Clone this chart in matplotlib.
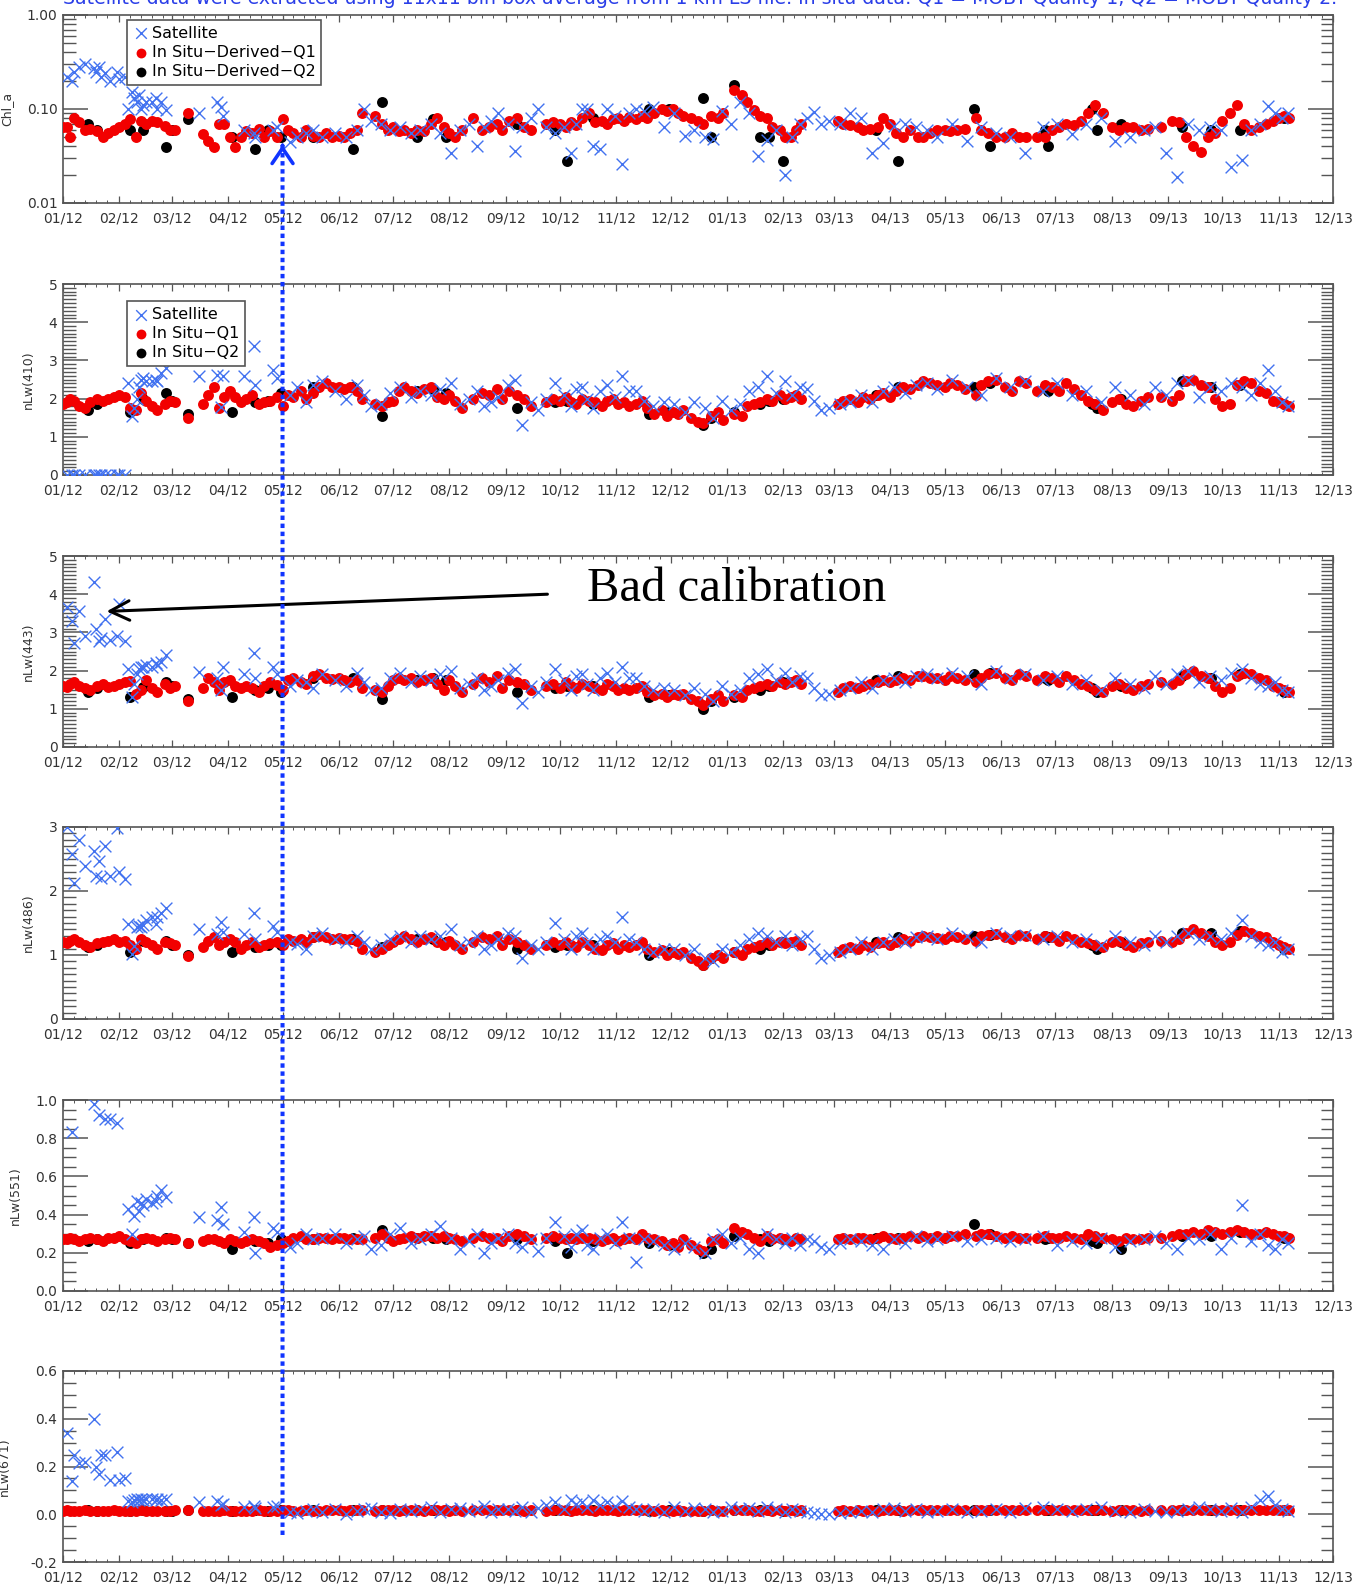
import numpy as np
import matplotlib
matplotlib.use('Agg')
import matplotlib.pyplot as plt
import matplotlib.dates as mdates
from matplotlib.patches import ConnectionPatch
from matplotlib.ticker import (MultipleLocator, FixedLocator, LogLocator,
                               FormatStrFormatter, NullFormatter)

nan = np.nan
START = np.datetime64('2012-01-01')
END = np.datetime64('2013-12-01')

# day offsets from 2012-01-01
q1_days = [0, 2, 4, 6, 9, 12, 15, 19, 22, 25,
           28, 31, 34, 37, 40, 43, 46, 49, 52, 56,
           59, 62, 69, 77, 80, 83, 86, 89, 92, 95,
           98, 101, 104, 108, 111, 114, 118, 121, 124, 127,
           131, 134, 138, 141, 145, 148, 152, 155, 158, 162,
           165, 172, 176, 179, 182, 185, 188, 192, 195, 199,
           203, 206, 210, 213, 216, 220, 226, 231, 235, 239,
           242, 246, 250, 254, 258, 266, 270, 274, 277, 280,
           283, 286, 290, 293, 297, 300, 303, 306, 309, 312,
           316, 319, 322, 326, 330, 333, 336, 339, 342, 346,
           350, 353, 357, 361, 364, 370, 374, 377, 381, 384,
           388, 391, 395, 398, 401, 404, 407, 427, 430, 434,
           438, 441, 445, 449, 452, 456, 459, 463, 467, 471,
           474, 478, 482, 486, 489, 493, 497, 503, 506, 510,
           514, 519, 523, 527, 531, 537, 541, 545, 549, 553,
           557, 561, 565, 569, 573, 578, 582, 586, 590, 594,
           598, 605, 611, 615, 619, 623, 627, 631, 635, 639,
           643, 647, 651, 655, 659, 663, 667, 670, 673, 676]

q2_days = [14, 19, 37, 44, 57, 60, 69, 93, 106, 113,
           120, 138, 160, 176, 195, 204, 211, 250, 271, 278,
           292, 323, 334, 353, 357, 370, 384, 389, 397, 448,
           460, 502, 511, 541, 543, 567, 570, 583, 617, 633,
           649, 673]

sat_days = [2, 5, 6, 9, 12, 17, 18, 20, 21, 23,
            26, 30, 31, 34, 36, 38, 39, 41, 42, 43,
            44, 46, 49, 51, 52, 54, 57, 75, 85, 87,
            88, 100, 105, 106, 116, 118, 125, 129, 134, 138,
            143, 150, 156, 162, 166, 170, 175, 180, 186, 192,
            197, 203, 208, 214, 219, 224, 228, 232, 236, 240,
            245, 249, 253, 258, 262, 266, 271, 276, 280, 283,
            286, 289, 292, 296, 300, 304, 308, 312, 316, 320,
            325, 331, 337, 343, 348, 354, 358, 363, 368, 373,
            378, 383, 388, 393, 398, 402, 406, 410, 414, 418,
            422, 428, 434, 440, 446, 452, 458, 464, 470, 476,
            482, 490, 498, 506, 514, 522, 530, 540, 548, 556,
            564, 572, 580, 588, 596, 602, 608, 614, 620, 626,
            632, 638, 644, 650, 655, 660, 664, 668, 672, 675]

# ---- Chl_a ----
chl_q1 = [0.065, 0.064, 0.05, 0.08, 0.072, 0.06, 0.061, 0.058, 0.05, 0.055,
          0.06, 0.065, 0.07, 0.078, 0.05, 0.075, 0.07, 0.075, 0.072, 0.066,
          0.06, 0.06, 0.09, 0.054, 0.046, 0.039, 0.069, 0.07, 0.05, 0.039,
          0.05, 0.058, 0.055, 0.062, 0.05, 0.058, 0.05, 0.078, 0.06, 0.055,
          0.05, 0.06, 0.052, 0.05, 0.055, 0.05, 0.052, 0.05, 0.055, 0.06,
          0.09, 0.085, 0.07, 0.06, 0.065, 0.058, 0.06, 0.055, 0.06, 0.058,
          0.07, 0.08, 0.065, 0.055, 0.05, 0.06, 0.08, 0.06, 0.065, 0.07,
          0.06, 0.075, 0.08, 0.065, 0.06, 0.07, 0.072, 0.07, 0.065, 0.072,
          0.068, 0.08, 0.09, 0.072, 0.075, 0.07, 0.078, 0.08, 0.075, 0.082,
          0.078, 0.085, 0.08, 0.09, 0.1, 0.095, 0.1, 0.09, 0.085, 0.08,
          0.075, 0.07, 0.085, 0.08, 0.09, 0.16, 0.14, 0.12, 0.098, 0.085,
          0.08, 0.064, 0.06, 0.05, 0.05, 0.06, 0.07, 0.075, 0.07, 0.068,
          0.065, 0.06, 0.062, 0.065, 0.08, 0.07, 0.055, 0.05, 0.06, 0.05,
          0.05, 0.055, 0.06, 0.06, 0.058, 0.06, 0.062, 0.08, 0.06, 0.055,
          0.05, 0.05, 0.055, 0.05, 0.05, 0.05, 0.05, 0.06, 0.065, 0.07,
          0.068, 0.075, 0.09, 0.11, 0.09, 0.065, 0.06, 0.065, 0.065, 0.06,
          0.062, 0.065, 0.075, 0.072, 0.05, 0.04, 0.035, 0.05, 0.055, 0.075,
          0.09, 0.11, 0.07, 0.06, 0.065, 0.07, 0.075, 0.08, 0.085, 0.08]
chl_q2 = [0.07, 0.06, 0.06, 0.06, 0.039, 0.06, 0.078, 0.05, 0.038, 0.06,
          0.05, 0.05, 0.038, 0.12, 0.05, 0.078, 0.05, 0.07, 0.06, 0.028,
          0.08, 0.1, 0.1, 0.13, 0.05, 0.18, 0.05, 0.05, 0.028, 0.06,
          0.028, 0.1, 0.04, 0.06, 0.04, 0.1, 0.06, 0.07, 0.065, 0.06,
          0.06, 0.08]
chl_sat = [0.22, 0.2, 0.25, 0.28, 0.3, 0.27, 0.25, 0.28, 0.22, 0.24,
           0.2, 0.25, 0.21, 0.22, 0.1, 0.15, 0.13, 0.12, 0.14, 0.1,
           0.11, 0.12, 0.12, 0.13, 0.1, 0.12, 0.097, 0.09, 0.118, 0.104,
           0.085, 0.06, 0.055, 0.05, 0.06, 0.065, 0.045, 0.05, 0.055, 0.06,
           0.05, 0.055, 0.05, 0.06, 0.1, 0.075, 0.07, 0.06, 0.065, 0.055,
           0.06, 0.07, 0.055, 0.034, 0.06, 0.07, 0.04, 0.065, 0.075, 0.09,
           0.07, 0.036, 0.065, 0.08, 0.1, 0.065, 0.055, 0.065, 0.034, 0.07,
           0.1, 0.1, 0.04, 0.038, 0.1, 0.085, 0.026, 0.09, 0.1, 0.095,
           0.105, 0.064, 0.09, 0.052, 0.06, 0.05, 0.048, 0.095, 0.07, 0.12,
           0.09, 0.032, 0.047, 0.06, 0.02, 0.05, 0.07, 0.08, 0.093, 0.07,
           0.075, 0.07, 0.09, 0.08, 0.034, 0.044, 0.066, 0.07, 0.065, 0.06,
           0.05, 0.07, 0.046, 0.065, 0.055, 0.05, 0.034, 0.065, 0.07, 0.054,
           0.07, 0.08, 0.046, 0.05, 0.06, 0.065, 0.034, 0.019, 0.07, 0.06,
           0.065, 0.06, 0.024, 0.029, 0.06, 0.07, 0.108, 0.09, 0.08, 0.09]

# ---- nLw(410) ----
n410_q1 = [1.85, 1.9, 2.0, 1.95, 1.8, 1.75, 1.9, 2.0, 1.95, 2.0,
           2.05, 2.1, 2.05, 1.75, 1.7, 2.15, 1.95, 1.8, 1.7, 1.85,
           1.95, 1.9, 1.5, 1.85, 2.1, 2.3, 1.75, 2.05, 2.2, 2.05,
           1.9, 2.0, 2.1, 1.85, 1.9, 1.95, 2.05, 1.8, 2.1, 2.05,
           2.2, 2.0, 2.15, 2.3, 2.4, 2.3, 2.3, 2.25, 2.3, 2.2,
           2.0, 1.85, 1.8, 1.9, 1.95, 2.2, 2.3, 2.2, 2.15, 2.25,
           2.3, 2.05, 2.0, 2.1, 1.95, 1.75, 2.0, 2.15, 2.1, 2.25,
           2.0, 2.2, 2.1, 2.0, 1.8, 1.9, 2.0, 1.95, 2.05, 1.9,
           1.85, 2.0, 1.95, 1.9, 1.8, 1.95, 2.0, 1.85, 1.9, 1.8,
           1.85, 1.95, 1.75, 1.6, 1.7, 1.55, 1.65, 1.6, 1.7, 1.5,
           1.4, 1.35, 1.55, 1.65, 1.45, 1.6, 1.55, 1.8, 1.85, 1.9,
           2.0, 1.95, 2.1, 2.0, 2.05, 2.1, 2.0, 1.85, 1.95, 2.0,
           1.9, 2.05, 2.0, 2.1, 2.15, 2.05, 2.2, 2.3, 2.25, 2.35,
           2.45, 2.4, 2.35, 2.3, 2.4, 2.35, 2.25, 2.1, 2.35, 2.45,
           2.5, 2.3, 2.2, 2.45, 2.4, 2.2, 2.35, 2.3, 2.2, 2.4,
           2.25, 2.1, 1.95, 1.85, 1.7, 1.9, 2.0, 1.85, 1.8, 1.95,
           2.05, 2.05, 1.95, 2.1, 2.45, 2.5, 2.35, 2.3, 2.0, 1.8,
           1.85, 2.35, 2.45, 2.4, 2.2, 2.15, 1.95, 1.9, 1.85, 1.8]
n410_q2 = [1.7, 1.85, 1.65, 2.0, 2.15, 1.95, 1.6, 1.65, 1.9, 1.95,
           2.15, 2.3, 2.3, 1.55, 2.2, 2.25, 2.15, 1.75, 1.9, 1.95,
           1.85, 1.6, 1.65, 1.3, 1.5, 1.65, 1.85, 1.95, 2.0, 2.1,
           2.3, 2.3, 2.4, 2.3, 2.2, 1.85, 1.75, 2.0, 2.45, 2.3,
           2.35, 1.85]
n410_sat = [0.0, 0.0, 0.0, 0.0, 0.0, 0.0, 0.0, 0.0, 0.0, 0.0,
            0.0, 0.0, 0.0, 0.0, 2.4, 1.55, 1.75, 2.0, 2.3, 2.5,
            2.55, 2.45, 2.45, 2.5, 2.45, 2.67, 2.8, 2.58, 2.63, 1.77,
            2.58, 2.58, 3.39, 2.36, 2.76, 2.54, 2.1, 2.3, 1.9, 2.35,
            2.45, 2.2, 2.0, 2.35, 2.1, 1.8, 1.85, 2.15, 2.3, 2.05,
            2.2, 2.1, 2.25, 2.4, 1.85, 2.0, 2.2, 1.8, 1.9, 2.05,
            2.35, 2.5, 1.3, 1.9, 1.7, 2.0, 2.4, 2.1, 1.8, 2.25,
            2.3, 2.0, 1.75, 2.2, 2.35, 2.05, 2.6, 2.2, 2.2, 1.95,
            1.8, 1.9, 1.85, 1.65, 1.9, 1.75, 1.5, 1.95, 1.7, 1.85,
            2.2, 2.3, 2.6, 2.15, 2.45, 2.1, 2.3, 2.25, 1.95, 1.7,
            1.75, 1.85, 1.9, 2.1, 1.9, 2.2, 2.3, 2.15, 2.35, 2.4,
            2.25, 2.5, 2.3, 2.1, 2.55, 2.3, 2.45, 2.2, 2.4, 2.1,
            2.2, 1.9, 2.3, 2.1, 1.85, 2.3, 2.1, 2.4, 2.5, 2.05,
            2.3, 2.2, 2.4, 2.3, 2.1, 2.4, 2.75, 2.2, 1.9, 1.8]

# ---- nLw(443) ----
n443_q1 = [1.6, 1.58, 1.65, 1.7, 1.6, 1.55, 1.5, 1.6, 1.65, 1.58,
           1.6, 1.65, 1.7, 1.72, 1.4, 1.5, 1.75, 1.55, 1.45, 1.65,
           1.55, 1.6, 1.2, 1.55, 1.8, 1.7, 1.5, 1.7, 1.75, 1.6,
           1.55, 1.6, 1.55, 1.45, 1.6, 1.7, 1.62, 1.5, 1.75, 1.8,
           1.7, 1.65, 1.85, 1.9, 1.8, 1.78, 1.8, 1.75, 1.7, 1.75,
           1.55, 1.5, 1.45, 1.6, 1.75, 1.8, 1.75, 1.8, 1.7, 1.75,
           1.8, 1.65, 1.5, 1.75, 1.6, 1.45, 1.65, 1.8, 1.7, 1.85,
           1.55, 1.75, 1.7, 1.65, 1.5, 1.6, 1.65, 1.55, 1.7, 1.6,
           1.55, 1.65, 1.6, 1.55, 1.5, 1.65, 1.6, 1.5, 1.55, 1.5,
           1.55, 1.6, 1.45, 1.35, 1.4, 1.3, 1.4, 1.35, 1.4, 1.25,
           1.2, 1.1, 1.25, 1.35, 1.2, 1.35, 1.3, 1.5, 1.55, 1.6,
           1.65, 1.6, 1.7, 1.65, 1.7, 1.75, 1.65, 1.45, 1.55, 1.6,
           1.55, 1.6, 1.65, 1.7, 1.75, 1.7, 1.75, 1.8, 1.75, 1.85,
           1.85, 1.8, 1.8, 1.75, 1.85, 1.8, 1.75, 1.7, 1.8, 1.9,
           1.95, 1.8, 1.75, 1.9, 1.85, 1.75, 1.85, 1.8, 1.7, 1.85,
           1.75, 1.65, 1.6, 1.5, 1.45, 1.6, 1.65, 1.55, 1.5, 1.6,
           1.65, 1.7, 1.65, 1.75, 1.9, 2.0, 1.85, 1.8, 1.6, 1.45,
           1.55, 1.85, 1.95, 1.9, 1.8, 1.75, 1.6, 1.55, 1.5, 1.45]
n443_q2 = [1.45, 1.55, 1.3, 1.56, 1.7, 1.6, 1.25, 1.3, 1.5, 1.55,
           1.43, 1.8, 1.8, 1.25, 1.75, 1.8, 1.75, 1.45, 1.55, 1.6,
           1.6, 1.3, 1.35, 1.0, 1.2, 1.3, 1.5, 1.6, 1.7, 1.75,
           1.85, 1.9, 1.95, 1.8, 1.75, 1.55, 1.45, 1.6, 1.85, 1.8,
           1.9, 1.45]
n443_sat = [3.66, 3.3, 2.72, 3.57, 2.9, 4.33, 3.1, 2.77, 2.86, 3.35,
            2.8, 2.9, 3.75, 2.77, 2.05, 1.3, 1.65, 1.92, 2.05, 2.1,
            2.1, 2.15, 2.1, 2.2, 2.15, 2.23, 2.41, 1.96, 1.8, 1.5,
            2.1, 1.92, 2.46, 1.8, 2.1, 1.92, 1.6, 1.75, 1.7, 1.55,
            1.9, 1.75, 1.6, 1.95, 1.7, 1.5, 1.55, 1.8, 1.95, 1.7,
            1.85, 1.75, 1.9, 2.0, 1.55, 1.65, 1.8, 1.5, 1.6, 1.75,
            1.95, 2.05, 1.15, 1.6, 1.45, 1.7, 2.05, 1.75, 1.5, 1.85,
            1.9, 1.65, 1.5, 1.8, 1.95, 1.7, 2.1, 1.8, 1.8, 1.6,
            1.5, 1.55, 1.5, 1.35, 1.55, 1.4, 1.2, 1.6, 1.4, 1.5,
            1.8, 1.9, 2.05, 1.75, 1.95, 1.7, 1.85, 1.8, 1.55, 1.35,
            1.4, 1.5, 1.55, 1.7, 1.55, 1.75, 1.8, 1.7, 1.85, 1.9,
            1.8, 1.95, 1.85, 1.65, 2.0, 1.8, 1.9, 1.75, 1.85, 1.65,
            1.75, 1.5, 1.8, 1.65, 1.55, 1.85, 1.65, 1.9, 2.0, 1.7,
            1.85, 1.75, 1.95, 2.05, 1.8, 1.65, 1.6, 1.7, 1.5, 1.45]

# ---- nLw(486) ----
n486_q1 = [1.2, 1.18, 1.22, 1.25, 1.2, 1.15, 1.12, 1.18, 1.2, 1.22,
           1.25, 1.2, 1.22, 1.15, 1.1, 1.25, 1.2, 1.15, 1.1, 1.2,
           1.18, 1.15, 0.98, 1.12, 1.22, 1.28, 1.15, 1.2, 1.25, 1.2,
           1.1, 1.15, 1.2, 1.12, 1.15, 1.18, 1.2, 1.15, 1.25, 1.22,
           1.25, 1.2, 1.28, 1.3, 1.28, 1.25, 1.27, 1.25, 1.25, 1.22,
           1.1, 1.05, 1.1, 1.15, 1.2, 1.25, 1.3, 1.25, 1.2, 1.25,
           1.28, 1.2, 1.15, 1.22, 1.15, 1.1, 1.2, 1.28, 1.25, 1.3,
           1.15, 1.25, 1.2, 1.15, 1.1, 1.15, 1.2, 1.15, 1.2, 1.15,
           1.12, 1.2, 1.15, 1.1, 1.08, 1.15, 1.18, 1.1, 1.15, 1.12,
           1.15, 1.2, 1.1, 1.05, 1.08, 1.0, 1.05, 1.02, 1.05, 0.95,
           0.9, 0.85, 0.95, 1.0, 0.95, 1.05, 1.0, 1.1, 1.12, 1.15,
           1.2, 1.15, 1.2, 1.18, 1.2, 1.22, 1.15, 1.05, 1.1, 1.12,
           1.1, 1.15, 1.12, 1.18, 1.2, 1.15, 1.2, 1.25, 1.22, 1.28,
           1.3, 1.28, 1.27, 1.25, 1.3, 1.28, 1.25, 1.22, 1.3, 1.32,
           1.33, 1.28, 1.25, 1.32, 1.3, 1.25, 1.3, 1.28, 1.22, 1.3,
           1.25, 1.2, 1.18, 1.15, 1.12, 1.2, 1.22, 1.15, 1.12, 1.18,
           1.2, 1.22, 1.2, 1.25, 1.35, 1.4, 1.35, 1.3, 1.2, 1.15,
           1.2, 1.32, 1.38, 1.35, 1.3, 1.28, 1.2, 1.15, 1.12, 1.1]
n486_q2 = [1.12, 1.15, 1.05, 1.22, 1.22, 1.15, 1.0, 1.05, 1.12, 1.15,
           1.15, 1.28, 1.25, 1.12, 1.25, 1.25, 1.2, 1.1, 1.12, 1.15,
           1.15, 1.0, 1.05, 0.85, 0.95, 1.05, 1.1, 1.15, 1.2, 1.2,
           1.28, 1.3, 1.32, 1.3, 1.28, 1.15, 1.1, 1.2, 1.35, 1.35,
           1.38, 1.1]
n486_sat = [3.0, 2.58, 2.13, 2.79, 2.39, 2.63, 2.23, 2.47, 2.2, 2.71,
            2.23, 2.98, 2.29, 2.18, 1.49, 1.01, 1.14, 1.44, 1.46, 1.43,
            1.47, 1.54, 1.6, 1.49, 1.6, 1.65, 1.73, 1.41, 1.33, 1.52,
            1.36, 1.33, 1.65, 1.25, 1.46, 1.36, 1.2, 1.17, 1.09, 1.3,
            1.35, 1.25, 1.2, 1.3, 1.2, 1.1, 1.15, 1.25, 1.3, 1.2,
            1.3, 1.25, 1.3, 1.4, 1.15, 1.2, 1.3, 1.1, 1.15, 1.25,
            1.35, 1.3, 0.95, 1.15, 1.1, 1.2, 1.5, 1.25, 1.1, 1.3,
            1.35, 1.2, 1.1, 1.25, 1.3, 1.2, 1.6, 1.25, 1.2, 1.1,
            1.05, 1.1, 1.1, 1.0, 1.1, 0.95, 0.9, 1.1, 1.05, 1.15,
            1.25, 1.35, 1.3, 1.2, 1.3, 1.15, 1.25, 1.3, 1.1, 0.95,
            1.0, 1.05, 1.1, 1.2, 1.1, 1.2, 1.25, 1.2, 1.28, 1.3,
            1.25, 1.35, 1.3, 1.2, 1.35, 1.3, 1.32, 1.25, 1.3, 1.2,
            1.25, 1.15, 1.3, 1.2, 1.15, 1.3, 1.2, 1.3, 1.35, 1.25,
            1.3, 1.25, 1.35, 1.55, 1.3, 1.2, 1.15, 1.2, 1.05, 1.1]

# ---- nLw(551) ----
n551_q1 = [0.27, 0.27, 0.28, 0.27, 0.26, 0.27, 0.28, 0.27, 0.26, 0.28,
           0.28, 0.29, 0.27, 0.26, 0.25, 0.27, 0.28, 0.27, 0.26, 0.27,
           0.28, 0.27, 0.25, 0.26, 0.27, 0.27, 0.26, 0.25, 0.27, 0.26,
           0.25, 0.26, 0.27, 0.26, 0.25, 0.23, 0.24, 0.25, 0.26, 0.28,
           0.29, 0.27, 0.27, 0.28, 0.28, 0.27, 0.28, 0.28, 0.27, 0.27,
           0.27, 0.28, 0.3, 0.28, 0.26, 0.27, 0.28, 0.29, 0.28, 0.29,
           0.29, 0.28, 0.29, 0.28, 0.27, 0.26, 0.28, 0.29, 0.28, 0.28,
           0.26, 0.29, 0.3, 0.29, 0.27, 0.28, 0.29, 0.28, 0.27, 0.28,
           0.27, 0.28, 0.28, 0.27, 0.26, 0.27, 0.28, 0.26, 0.27, 0.28,
           0.27, 0.3, 0.28, 0.27, 0.26, 0.24, 0.25, 0.23, 0.27, 0.24,
           0.22, 0.21, 0.26, 0.27, 0.25, 0.33, 0.31, 0.3, 0.28, 0.26,
           0.29, 0.27, 0.28, 0.27, 0.26, 0.28, 0.27, 0.27, 0.28, 0.27,
           0.28, 0.28, 0.27, 0.28, 0.29, 0.28, 0.27, 0.28, 0.29, 0.28,
           0.29, 0.28, 0.29, 0.28, 0.29, 0.29, 0.3, 0.29, 0.3, 0.3,
           0.29, 0.28, 0.29, 0.28, 0.28, 0.28, 0.29, 0.28, 0.28, 0.29,
           0.28, 0.27, 0.3, 0.29, 0.28, 0.27, 0.26, 0.28, 0.27, 0.27,
           0.28, 0.28, 0.29, 0.3, 0.3, 0.31, 0.3, 0.32, 0.31, 0.3,
           0.31, 0.32, 0.31, 0.3, 0.3, 0.31, 0.3, 0.29, 0.29, 0.28]
n551_q2 = [0.26, 0.27, 0.25, 0.27, 0.28, 0.27, 0.25, 0.22, 0.26, 0.25,
           0.27, 0.27, 0.28, 0.32, 0.28, 0.28, 0.27, 0.27, 0.26, 0.2,
           0.26, 0.25, 0.24, 0.2, 0.22, 0.29, 0.27, 0.26, 0.27, 0.28,
           0.28, 0.35, 0.3, 0.27, 0.28, 0.26, 0.25, 0.22, 0.29, 0.29,
           0.31, 0.28]
n551_sat = [nan, 0.83, nan, nan, nan, 0.98, nan, 0.92, nan, 0.9,
            0.9, 0.88, nan, nan, 0.43, 0.3, 0.395, 0.47, 0.42, 0.46,
            0.45, 0.48, 0.46, 0.47, 0.5, 0.53, 0.49, 0.39, 0.37, 0.44,
            0.35, 0.31, 0.39, 0.2, 0.33, 0.31, 0.23, 0.25, 0.3, 0.27,
            0.28, 0.3, 0.25, 0.27, 0.29, 0.22, 0.24, 0.3, 0.33, 0.25,
            0.27, 0.3, 0.34, 0.28, 0.22, 0.26, 0.3, 0.2, 0.25, 0.28,
            0.3, 0.25, 0.23, 0.27, 0.21, 0.28, 0.36, 0.29, 0.23, 0.3,
            0.32, 0.24, 0.22, 0.28, 0.3, 0.25, 0.36, 0.28, 0.15, 0.27,
            0.26, 0.24, 0.22, 0.25, 0.23, 0.2, 0.27, 0.3, 0.25, 0.28,
            0.22, 0.2, 0.3, 0.27, 0.25, 0.28, 0.24, 0.27, 0.26, 0.23,
            0.22, 0.25, 0.27, 0.26, 0.24, 0.22, 0.27, 0.25, 0.29, 0.26,
            0.27, 0.29, 0.26, 0.27, 0.28, 0.26, 0.27, 0.29, 0.24, 0.26,
            0.25, 0.28, 0.23, 0.26, 0.27, 0.29, 0.25, 0.22, 0.28, 0.27,
            0.3, 0.22, 0.28, 0.45, 0.26, 0.3, 0.24, 0.22, 0.27, 0.25]

# ---- nLw(671) ----
n671_q1 = [0.015, 0.016, 0.015, 0.014, 0.015, 0.016, 0.015, 0.015, 0.014, 0.015,
           0.016, 0.015, 0.015, 0.014, 0.015, 0.016, 0.015, 0.014, 0.015, 0.015,
           0.015, 0.016, 0.016, 0.015, 0.015, 0.014, 0.015, 0.016, 0.015, 0.015,
           0.014, 0.015, 0.015, 0.016, 0.015, 0.014, 0.015, 0.018, 0.016, 0.015,
           0.015, 0.016, 0.015, 0.015, 0.016, 0.017, 0.016, 0.015, 0.016, 0.017,
           0.016, 0.015, 0.016, 0.017, 0.016, 0.015, 0.016, 0.017, 0.016, 0.015,
           0.016, 0.017, 0.016, 0.015, 0.016, 0.015, 0.016, 0.017, 0.016, 0.017,
           0.016, 0.017, 0.016, 0.015, 0.016, 0.015, 0.016, 0.017, 0.016, 0.015,
           0.016, 0.017, 0.016, 0.015, 0.016, 0.017, 0.016, 0.015, 0.016, 0.017,
           0.016, 0.017, 0.016, 0.015, 0.016, 0.015, 0.014, 0.016, 0.015, 0.014,
           0.015, 0.014, 0.016, 0.015, 0.014, 0.018, 0.017, 0.016, 0.015, 0.015,
           0.016, 0.015, 0.016, 0.015, 0.016, 0.015, 0.016, 0.015, 0.016, 0.015,
           0.016, 0.015, 0.016, 0.015, 0.016, 0.017, 0.016, 0.015, 0.016, 0.017,
           0.017, 0.016, 0.017, 0.016, 0.017, 0.016, 0.017, 0.018, 0.017, 0.016,
           0.017, 0.016, 0.017, 0.016, 0.017, 0.016, 0.017, 0.016, 0.017, 0.016,
           0.016, 0.017, 0.016, 0.017, 0.016, 0.015, 0.016, 0.017, 0.016, 0.015,
           0.016, 0.017, 0.016, 0.017, 0.018, 0.017, 0.016, 0.017, 0.018, 0.017,
           0.018, 0.017, 0.018, 0.017, 0.016, 0.017, 0.018, 0.017, 0.016, 0.017]
n671_q2 = [0.016, 0.015, 0.015, 0.016, 0.015, 0.015, 0.016, 0.015, 0.016, 0.015,
           0.016, 0.016, 0.017, 0.018, 0.016, 0.017, 0.016, 0.016, 0.017, 0.016,
           0.016, 0.015, 0.016, 0.015, 0.016, 0.017, 0.016, 0.016, 0.015, 0.016,
           0.017, 0.017, 0.016, 0.016, 0.017, 0.017, 0.016, 0.016, 0.017, 0.018,
           0.017, 0.017]
n671_sat = [0.34, 0.14, 0.25, 0.215, 0.22, 0.4, 0.2, 0.17, 0.25, 0.25,
            0.145, 0.26, 0.145, 0.15, 0.055, 0.05, 0.06, 0.065, 0.06, 0.065,
            0.06, 0.065, 0.065, 0.06, 0.065, 0.06, 0.065, 0.05, 0.055, 0.04,
            0.045, 0.03, 0.035, 0.025, 0.03, 0.035, 0.01, 0.005, 0.015, 0.02,
            0.01, 0.02, 0.0, 0.015, 0.02, 0.025, 0.01, 0.005, 0.02, 0.015,
            0.02, 0.03, 0.01, 0.02, 0.025, 0.015, 0.02, 0.035, 0.01, 0.02,
            0.02, 0.015, 0.03, 0.01, 0.025, 0.04, 0.05, 0.02, 0.06, 0.045,
            0.05, 0.03, 0.06, 0.04, 0.05, 0.035, 0.055, 0.03, 0.02, 0.015,
            0.02, 0.01, 0.03, 0.015, 0.025, 0.02, 0.01, 0.015, 0.03, 0.02,
            0.025, 0.015, 0.03, 0.02, 0.01, 0.02, 0.015, 0.01, 0.005, 0.0,
            0.0, 0.005, 0.01, 0.015, 0.01, 0.02, 0.025, 0.015, 0.02, 0.01,
            0.015, 0.02, 0.01, 0.015, 0.02, 0.01, 0.025, 0.03, 0.02, 0.015,
            0.02, 0.03, 0.015, 0.01, 0.02, 0.015, 0.01, 0.015, 0.02, 0.03,
            0.02, 0.015, 0.025, 0.01, 0.03, 0.06, 0.075, 0.04, 0.02, 0.015]

ylabels = ['Chl_a', 'nLw(410)', 'nLw(443)', 'nLw(486)', 'nLw(551)', 'nLw(671)']
legend_labels = [['Satellite', 'In Situ\u2212Derived\u2212Q1', 'In Situ\u2212Derived\u2212Q2'],
                 ['Satellite', 'In Situ\u2212Q1', 'In Situ\u2212Q2']]
title = ('Satellite data were extracted using 11x11 bin box average from 1 km LS file. '
         'In situ data: Q1 = MOBY Quality 1, Q2 = MOBY Quality 2.')

series = [(chl_sat, chl_q1, chl_q2), (n410_sat, n410_q1, n410_q2),
          (n443_sat, n443_q1, n443_q2), (n486_sat, n486_q1, n486_q2),
          (n551_sat, n551_q1, n551_q2), (n671_sat, n671_q1, n671_q2)]

# axis setup: (ymin, ymax, major step, minor step, tick format, ylabel x in axes fraction)
yaxes = [(0.01, 1.0, None, None, '%.2f', -0.039),
         (0, 5, 1, 0.1, '%d', -0.022),
         (0, 5, 1, 0.1, '%d', -0.022),
         (0, 3, 1, 0.1, '%d', -0.022),
         (0, 1.0, 0.2, 0.05, '%.1f', -0.032),
         (-0.2, 0.6, 0.2, 0.05, '%.1f', -0.041)]

# panel frames in pixels (top, bottom) for a 1352 x 1592 canvas
W, H = 1352, 1592
X0, X1 = 63, 1333
frames = [(15, 203), (284, 475), (556, 747), (827, 1019), (1100, 1291), (1371, 1562)]

SAT_C = '#4272f0'
Q1_C = '#f20000'
Q2_C = '#000000'
EDGE = '#555555'

base = mdates.date2num(START)
x_end = mdates.date2num(END)
xq1 = base + np.array(q1_days, dtype=float)
xq2 = base + np.array(q2_days, dtype=float)
xsat = base + np.array(sat_days, dtype=float)

fig = plt.figure(figsize=(W / 100, H / 100), dpi=100)
axes = []
for i, ((sat, q1, q2), (ymin, ymax, major, minor, fmt, labx), (top, bot)) in enumerate(
        zip(series, yaxes, frames)):
    ax = fig.add_axes([X0 / W, 1 - bot / H, (X1 - X0) / W, (bot - top) / H])
    axes.append(ax)
    h2 = ax.scatter(xq2, q2, s=62, color=Q2_C, linewidths=0, zorder=2)
    h1 = ax.scatter(xq1, q1, s=62, color=Q1_C, linewidths=0, zorder=3)
    hs = ax.scatter(xsat, sat, s=72, marker='x', color=SAT_C, linewidths=1.0, zorder=4)

    ax.set_xlim(base, x_end)
    ax.xaxis.set_major_locator(mdates.MonthLocator())
    ax.xaxis.set_minor_locator(mdates.DayLocator(bymonthday=[7, 13, 19, 25]))
    ax.xaxis.set_major_formatter(mdates.DateFormatter('%m/%y'))

    if i == 0:
        ax.set_yscale('log')
        ax.set_ylim(ymin, ymax)
        ax.yaxis.set_major_locator(FixedLocator([0.01, 0.1, 1.0]))
        ax.yaxis.set_minor_locator(LogLocator(base=10, subs=np.arange(2, 10)))
        ax.yaxis.set_minor_formatter(NullFormatter())
    else:
        ax.set_ylim(ymin, ymax)
        ax.yaxis.set_major_locator(MultipleLocator(major))
        ax.yaxis.set_minor_locator(MultipleLocator(minor))
    ax.yaxis.set_major_formatter(FormatStrFormatter(fmt))

    ax.tick_params(axis='x', which='major', direction='in', length=5, width=0.9,
                   top=True, bottom=True, color=EDGE, labelsize=10, labelcolor='#333333', pad=6)
    ax.tick_params(axis='x', which='minor', direction='in', length=2.5, width=0.7,
                   top=True, bottom=True, color=EDGE)
    ax.tick_params(axis='y', which='major', direction='in', length=18, width=1.1,
                   left=True, right=True, color=EDGE, labelsize=10, labelcolor='#333333', pad=4)
    ax.tick_params(axis='y', which='minor', direction='in', length=9, width=1.0,
                   left=True, right=True, color=EDGE)
    for sp in ax.spines.values():
        sp.set_color(EDGE)
        sp.set_linewidth(1.2)

    ax.set_ylabel(ylabels[i], fontsize=9, color='#333333')
    ax.yaxis.set_label_coords(labx, 0.5)

    if i < 2:
        anchor = (64 / 1270, 0.973) if i == 0 else (64 / 1270, 0.91)
        leg = ax.legend([hs, h1, h2], legend_labels[i], loc='upper left',
                        bbox_to_anchor=anchor, borderaxespad=0, fancybox=False,
                        edgecolor=EDGE, framealpha=1,
                        prop={'family': 'DejaVu Sans', 'size': 11.5},
                        handletextpad=0.2, labelspacing=0.26, borderpad=0.35,
                        handlelength=1.0, markerscale=0.9)
        leg.get_frame().set_linewidth(1.2)

# dotted marker line at 05/12 running through every panel
may1 = base + 121
tip = 0.0414
line = ConnectionPatch(xyA=(may1, tip), coordsA=axes[0].transData,
                       xyB=(may1, -0.1), coordsB=axes[5].transData,
                       color='#1034ff', linewidth=2.9, linestyle=(0, (1.1, 0.9)),
                       capstyle='butt', zorder=10)
fig.add_artist(line)
axes[0].annotate('', xy=(may1, tip), xytext=(may1, tip * 0.985),
                 arrowprops=dict(arrowstyle='->,head_length=1.1,head_width=0.75',
                                 color='#1034ff', lw=2.6, shrinkA=0, shrinkB=0),
                 annotation_clip=False, zorder=11)

# bad calibration callout on nLw(443)
axes[2].annotate('', xy=(base + 24, 3.55), xytext=(base + 267, 4.0),
                 arrowprops=dict(arrowstyle='->,head_length=1.4,head_width=0.7',
                                 color='black', lw=2.2, shrinkA=0, shrinkB=0),
                 annotation_clip=False, zorder=11)
fig.text(587 / W, 1 - 601 / H, 'Bad calibration', family='Liberation Serif',
         fontsize=35, color='black', ha='left', va='baseline')

# heading sits mostly above the canvas edge, only its lower half shows
fig.text(X0 / W, 1 - 4 / H, title, color='#2a3ee8', fontsize=13.6,
         ha='left', va='baseline')

fig.savefig('out.png', dpi=100)
